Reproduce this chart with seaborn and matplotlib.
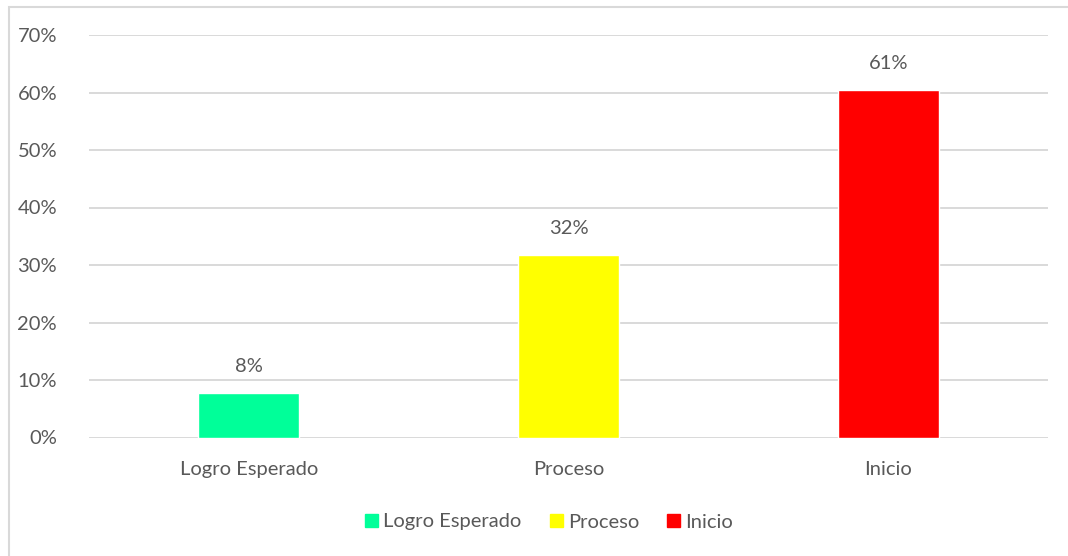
import pandas as pd
import matplotlib.pyplot as plt
import matplotlib.patches as mpatches
import seaborn as sns

# values
categories = ['Logro Esperado', 'Proceso', 'Inicio']
shares = [0.077, 0.318, 0.605]
bar_labels = ['8%', '32%', '61%']
colors = ['#00FF99', '#FFFF00', '#FF0000']
y_ticks = [0, 0.1, 0.2, 0.3, 0.4, 0.5, 0.6, 0.7]
y_tick_labels = ['0%', '10%', '20%', '30%', '40%', '50%', '60%', '70%']

df = pd.DataFrame({'nivel': categories, 'porcentaje': shares})

sns.set_style('white')
plt.rcParams['font.family'] = ['Lato', 'DejaVu Sans']
text_color = '#595959'
grid_color = '#D9D9D9'
fs = 14.5

fig = plt.figure(figsize=(10.68, 5.56), dpi=100)
ax = fig.add_axes([89 / 1068, 1 - 437.5 / 556, (1048 - 89) / 1068, (437.5 - 35) / 556])

sns.barplot(data=df, x='nivel', y='porcentaje', hue='nivel', palette=colors,
            width=0.315, saturation=1, legend=False, ax=ax)

ax.set_ylim(0, 0.7)
ax.set_xlim(-0.5, 2.5)
ax.set_yticks(y_ticks)
ax.set_yticklabels(y_tick_labels)
ax.yaxis.grid(True, color=grid_color, linewidth=1.4)
ax.set_axisbelow(True)
ax.set_xlabel('')
ax.set_ylabel('')
for s in ax.spines.values():
    s.set_visible(False)
ax.tick_params(axis='y', length=0, pad=23, labelsize=fs, labelcolor=text_color)
ax.tick_params(axis='x', length=0, pad=17, labelsize=fs, labelcolor=text_color)

# data labels above bars
for i, (v, lab) in enumerate(zip(shares, bar_labels)):
    ax.annotate(lab, (i, v), xytext=(0, 19), textcoords='offset points',
                ha='center', va='center', fontsize=fs, color=text_color)

# legend at the bottom
handles = [mpatches.Patch(color=c, label=n) for c, n in zip(colors, categories)]
fig.legend(handles=handles, loc='center', bbox_to_anchor=(0.514, 1 - 522 / 556),
           ncol=3, frameon=False, fontsize=fs, handlelength=0.65, handleheight=0.65,
           handletextpad=0.25, columnspacing=1.4, labelcolor=text_color)

# light chart border (top and left visible like the reference crop)
fig.patches.append(mpatches.Rectangle((9 / 1068, -0.05), 1.1, 1 - 7 / 556 + 0.05,
                                      transform=fig.transFigure, fill=False,
                                      edgecolor=grid_color, linewidth=1.5))

fig.savefig('out.png', dpi=100)
